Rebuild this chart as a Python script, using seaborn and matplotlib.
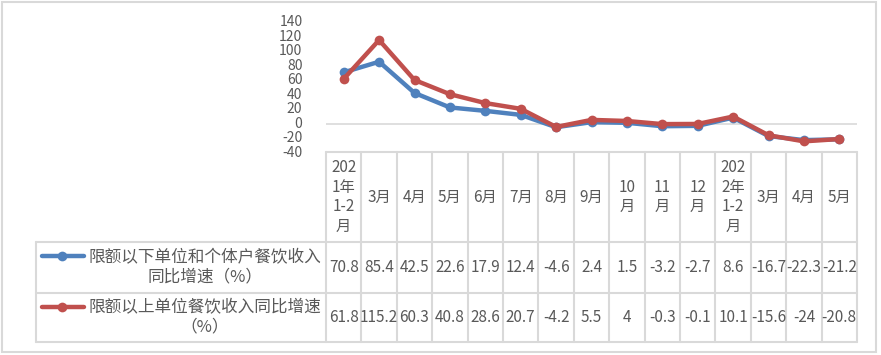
import pandas as pd
import matplotlib
matplotlib.use("Agg")
import matplotlib.pyplot as plt
import seaborn as sns

months = ["202\n1年\n1-2\n月", "3月", "4月", "5月", "6月", "7月", "8月", "9月",
          "10\n月", "11\n月", "12\n月", "202\n2年\n1-2\n月", "3月", "4月", "5月"]
below_quota = [70.8, 85.4, 42.5, 22.6, 17.9, 12.4, -4.6, 2.4, 1.5, -3.2, -2.7, 8.6, -16.7, -22.3, -21.2]
above_quota = [61.8, 115.2, 60.3, 40.8, 28.6, 20.7, -4.2, 5.5, 4, -0.3, -0.1, 10.1, -15.6, -24, -20.8]
series_names = ["限额以下单位和个体户餐饮收入同比增速（%）", "限额以上单位餐饮收入同比增速（%）"]
legend_text = ["限额以下单位和个体户餐饮收入\n同比增速（%）", "限额以上单位餐饮收入同比增速\n（%）"]
yticks = [-40, -20, 0, 20, 40, 60, 80, 100, 120, 140]
colors = ["#4F81BD", "#C0504D"]

sns.set_theme(style="white")
plt.rcParams['font.family'] = ['Noto Sans CJK SC', 'DejaVu Sans']

n = len(months)
df = pd.DataFrame({
    "pos": list(range(n)) * 2,
    "value": below_quota + above_quota,
    "series": [series_names[0]] * n + [series_names[1]] * n,
})

W, H = 881, 355
fig = plt.figure(figsize=(W / 100, H / 100), dpi=100)

# overlay in pixel coordinates for the frame and data table
ov = fig.add_axes([0, 0, 1, 1])
ov.set_xlim(0, W)
ov.set_ylim(H, 0)
ov.axis("off")

grid_c = "#D9D9D9"
text_c = "#595959"

# plot area in pixels
x0, x1 = 326, 857
ytop, ybot = 22, 153
ax = fig.add_axes([x0 / W, 1 - ybot / H, (x1 - x0) / W, (ybot - ytop) / H])
sns.lineplot(data=df, x="pos", y="value", hue="series", palette=colors,
             marker="o", markersize=7, markeredgewidth=0, linewidth=3.2,
             legend=False, ax=ax)
ax.set_xlim(-0.5, n - 0.5)
ax.set_ylim(-40, 140)
ax.set_yticks(yticks)
ax.set_yticklabels([str(v) for v in yticks], fontsize=10, color=text_c)
ax.tick_params(axis="y", length=0, pad=17)
ax.set_xticks([])
ax.set_xlabel("")
ax.set_ylabel("")
for s in ax.spines.values():
    s.set_visible(False)
ax.axhline(0, color=grid_c, linewidth=1.2, zorder=0)
ax.patch.set_alpha(0)
for lbl in ax.get_yticklabels():
    lbl.set_verticalalignment("center")

# outer frame
ov.add_patch(plt.Rectangle((2, 2), 874, 350, fill=False, edgecolor=grid_c, linewidth=1.5))

# data table
cw = (x1 - x0) / n
h_top, r1_top, r2_top, t_bot = 152, 242, 293, 342
lx = 36
lw = 1.5
ov.plot([x0, x1], [h_top, h_top], color=grid_c, lw=lw)
for yy in [r1_top, r2_top, t_bot]:
    ov.plot([lx, x1], [yy, yy], color=grid_c, lw=lw)
ov.plot([lx, lx], [r1_top, t_bot], color=grid_c, lw=lw)
for i in range(n + 1):
    xx = x0 + i * cw
    ov.plot([xx, xx], [h_top, t_bot], color=grid_c, lw=lw)

for i, m in enumerate(months):
    cx = x0 + (i + 0.5) * cw
    ov.text(cx, (h_top + r1_top) / 2, m, ha="center", va="center",
            fontsize=11, color=text_c, linespacing=1.2)
    ov.text(cx, (r1_top + r2_top) / 2, f"{below_quota[i]:g}", ha="center", va="center",
            fontsize=11, color=text_c)
    ov.text(cx, (r2_top + t_bot) / 2, f"{above_quota[i]:g}", ha="center", va="center",
            fontsize=11, color=text_c)

# legend keys in the table
for k, (top, bot) in enumerate([(r1_top, r2_top), (r2_top, t_bot)]):
    ky = top + 14
    ov.plot([42, 84], [ky, ky], color=colors[k], lw=3.2, solid_capstyle="round")
    ov.plot([62], [ky], marker="o", color=colors[k], markersize=7, markeredgewidth=0)
    ov.text(205, (top + bot) / 2, legend_text[k], ha="center", va="center",
            fontsize=12, color=text_c, linespacing=1.15)

fig.savefig("out.png", dpi=100)
